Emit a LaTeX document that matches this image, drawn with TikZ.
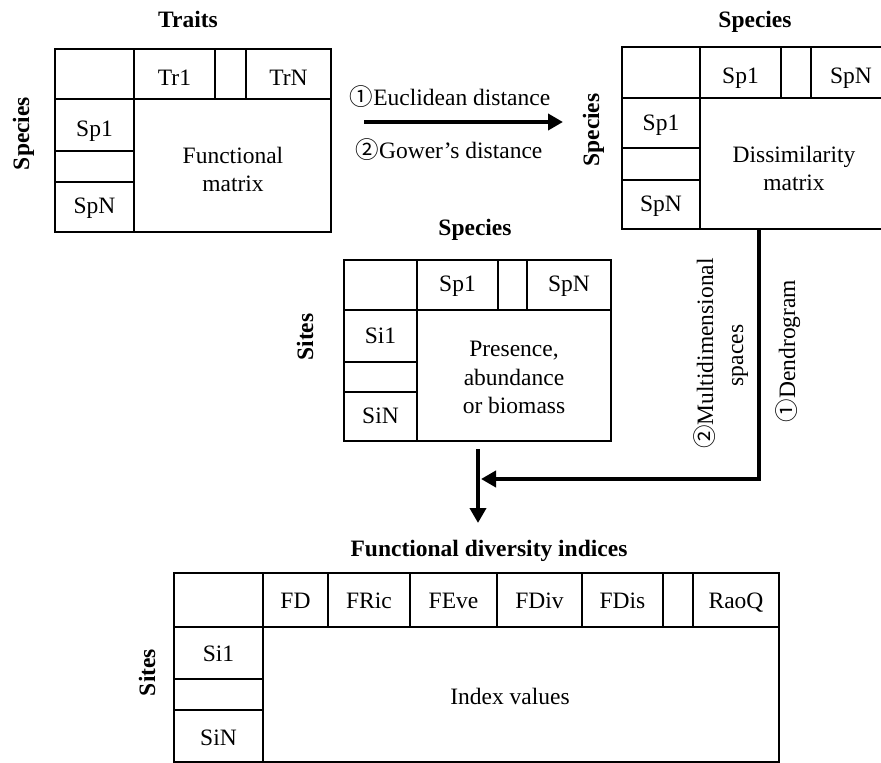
\documentclass[tikz,border=0pt]{standalone}
\usepackage{fontspec}
\setmainfont{Liberation Serif}
\newfontfamily\circfont{Noto Sans CJK SC}
\usetikzlibrary{arrows.meta}
\newcommand\circnum[1]{{\circfont #1}}
\begin{document}
\begin{tikzpicture}[x=1pt,y=-1pt,
  gridline/.style={line width=2.1pt},
  txt/.style={font=\fontsize{23.5}{28}\selectfont, inner sep=0pt, anchor=base},
  ttl/.style={font=\fontsize{23.5}{28}\selectfont\bfseries, inner sep=0pt, anchor=base},
  rtxt/.style={txt, rotate=90},
  rttl/.style={ttl, rotate=90},
  flow/.style={line width=4.5pt, line join=miter, -{Triangle[length=15pt,width=16pt]}},
  conn/.style={line width=4.5pt}
]
\clip (0,0) rectangle (881,763);
\fill[white] (0,0) rectangle (881,763);

% ---------- Matrix 1: functional matrix ----------
\draw[gridline] (55,49) rectangle (331,232);
\draw[gridline] (55,99) -- (331,99);
\draw[gridline] (134,49) -- (134,232);
\draw[gridline] (215,49) -- (215,99);
\draw[gridline] (246,49) -- (246,99);
\draw[gridline] (55,151) -- (134,151);
\draw[gridline] (55,182) -- (134,182);
\node[ttl] (m1title) at (188,27) {Traits};
\node[rttl] (m1side) at (29,133.5) {Species};
\node[txt] (m1tr1) at (174.5,85) {Tr1};
\node[txt] (m1trn) at (288.5,85) {TrN};
\node[txt] (m1sp1) at (94.5,136.5) {Sp1};
\node[txt] (m1spn) at (94.5,213) {SpN};
\node[txt] (m1body1) at (233,163) {Functional};
\node[txt] (m1body2) at (233,191.5) {matrix};

% ---------- Matrix 2: dissimilarity matrix ----------
\draw[gridline] (622,47) rectangle (896,229);
\draw[gridline] (622,98) -- (896,98);
\draw[gridline] (700,47) -- (700,229);
\draw[gridline] (781,47) -- (781,98);
\draw[gridline] (811,47) -- (811,98);
\draw[gridline] (622,148) -- (700,148);
\draw[gridline] (622,180) -- (700,180);
\node[ttl] (m2title) at (755,27) {Species};
\node[rttl] (m2side) at (599,130) {Species};
\node[txt] (m2sp1h) at (740.5,83.5) {Sp1};
\node[txt] (m2spnh) at (851,83.5) {SpN};
\node[txt] (m2sp1) at (661,130) {Sp1};
\node[txt] (m2spn) at (661,211.5) {SpN};
\node[txt] (m2body1) at (794,162) {Dissimilarity};
\node[txt] (m2body2) at (794,190) {matrix};

% ---------- Matrix 3: presence / abundance ----------
\draw[gridline] (344,260) rectangle (611,441);
\draw[gridline] (344,310) -- (611,310);
\draw[gridline] (417,260) -- (417,441);
\draw[gridline] (498,260) -- (498,310);
\draw[gridline] (527,260) -- (527,310);
\draw[gridline] (344,362) -- (417,362);
\draw[gridline] (344,392) -- (417,392);
\node[ttl] (m3title) at (475,235) {Species};
\node[rttl] (m3side) at (313,337) {Sites};
\node[txt] (m3sp1) at (457.5,291.5) {Sp1};
\node[txt] (m3spn) at (569,291.5) {SpN};
\node[txt] (m3si1) at (380.5,343) {Si1};
\node[txt] (m3sin) at (380.5,423) {SiN};
\node[txt] (m3body1) at (514,356.5) {Presence,};
\node[txt] (m3body2) at (514,385) {abundance};
\node[txt] (m3body3) at (514,413) {or biomass};

% ---------- Matrix 4: functional diversity indices ----------
\draw[gridline] (174,573) rectangle (779,762);
\draw[gridline] (174,627) -- (779,627);
\draw[gridline] (263,573) -- (263,762);
\foreach \cx in {328,410,497,582,663,693}
  \draw[gridline] (\cx,573) -- (\cx,627);
\draw[gridline] (174,679) -- (263,679);
\draw[gridline] (174,710) -- (263,710);
\node[ttl] (m4title) at (489,556) {Functional diversity indices};
\node[rttl] (m4side) at (155,672.5) {Sites};
\node[txt] (m4fd) at (295.5,608) {FD};
\node[txt] (m4fric) at (369,608) {FRic};
\node[txt] (m4feve) at (453.5,608) {FEve};
\node[txt] (m4fdiv) at (539.5,608) {FDiv};
\node[txt] (m4fdis) at (622.5,608) {FDis};
\node[txt] (m4raoq) at (736,608) {RaoQ};
\node[txt] (m4si1) at (218.5,661.5) {Si1};
\node[txt] (m4sin) at (218.5,745) {SiN};
\node[txt] (m4body) at (510,704) {Index values};

% ---------- Connectors ----------
\coordinate (a1start) at (364,122);
\coordinate (a1end) at (563,122);
\draw[flow] (a1start) -- (a1end);
\node[txt] (lab1) at (450,105) {\circnum{①}Euclidean distance};
\node[txt] (lab2) at (449,158) {\circnum{②}Gower’s distance};

\coordinate (dmout) at (759,228);
\coordinate (dmcorner) at (759,479);
\coordinate (join) at (481,479);
\draw[flow] (dmout) -- (dmcorner) -- (join);
\node[rtxt] (lab3a) at (713,353.5) {\circnum{②}Multidimensional};
\node[rtxt] (lab3b) at (743,355.5) {spaces};
\node[rtxt] (lab4) at (795,351) {\circnum{①}Dendrogram};

\coordinate (pout) at (478,449);
\coordinate (fdin) at (478,523);
\draw[flow] (pout) -- (fdin);
\end{tikzpicture}
\end{document}
